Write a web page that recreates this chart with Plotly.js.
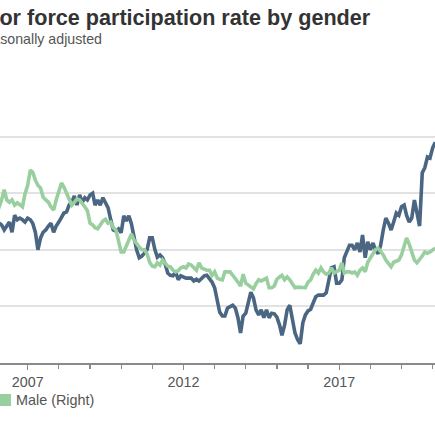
<!DOCTYPE html>
<html>
<head>
<meta charset="utf-8">
<script src="https://cdn.plot.ly/plotly-3.0.1.min.js"></script>
<style>
  html, body { margin: 0; padding: 0; width: 435px; height: 435px; overflow: hidden; background: #fff; }
  #chart { position: absolute; left: -160px; top: 0; width: 700px; height: 435px; }
</style>
</head>
<body>
<div id="chart"></div>
<script>
// Monthly series, first month Jan 2006
const startYear = 2006;
const femaleLeft = [
  75.47, 75.47, 75.44, 75.35, 75.42, 75.49, 75.31, 75.61, 75.53, 75.56, 75.53, 75.49,
  75.56, 75.53, 75.47, 75.31, 75.00, 75.21, 75.31, 75.35, 75.42, 75.47, 75.31, 75.42,
  75.49, 75.56, 75.65, 75.67, 75.79, 75.84, 75.95, 75.79, 75.97, 75.84, 75.92, 75.88,
  75.97, 76.00, 75.79, 75.88, 75.79, 75.92, 75.84, 75.74, 75.53, 75.35, 75.33, 75.37,
  75.30, 75.60, 75.51, 75.60, 75.46, 75.24, 75.00, 74.86, 74.89, 74.94, 75.00, 75.21,
  75.21, 75.00, 74.87, 74.91, 74.86, 74.75, 74.59, 74.55, 74.54, 74.61, 74.47, 74.54,
  74.52, 74.50, 74.50, 74.50, 74.45, 74.48, 74.45, 74.50, 74.54, 74.55, 74.50, 74.43,
  74.33, 74.06, 73.90, 73.83, 73.83, 73.97, 73.99, 74.02, 73.97, 73.80, 73.53, 73.83,
  73.88, 74.08, 74.25, 74.15, 73.94, 73.85, 73.94, 73.80, 73.94, 73.80, 73.88, 73.87,
  73.81, 73.67, 73.49, 73.67, 73.94, 74.02, 73.80, 73.53, 73.41, 73.34, 73.71, 73.85,
  73.92, 73.95, 74.06, 74.17, 74.20, 74.20, 74.20, 74.24, 74.43, 74.68, 74.70, 74.41,
  74.41, 74.47, 74.86, 74.96, 75.08, 75.08, 75.00, 75.12, 74.96, 75.26, 74.86, 75.14,
  75.00, 75.12, 75.00, 74.93, 75.08, 75.35, 75.56, 75.47, 75.35, 75.49, 75.65, 75.61,
  75.76, 75.79, 75.61, 75.49, 75.56, 75.88, 75.67, 75.42, 76.36, 76.45, 76.64, 76.62,
  76.80, 76.90
];
const maleRight = [
  89.79, 89.76, 89.88, 90.06, 89.88, 89.84, 89.88, 89.79, 89.83, 89.79, 89.76, 89.99,
  90.14, 90.41, 90.37, 90.23, 90.14, 90.09, 89.93, 89.88, 89.84, 89.76, 89.70, 89.88,
  90.06, 90.18, 90.11, 90.00, 89.90, 89.79, 89.84, 89.90, 89.88, 89.83, 89.76, 89.69,
  89.47, 89.44, 89.39, 89.37, 89.44, 89.51, 89.54, 89.47, 89.49, 89.39, 89.35, 89.17,
  88.96, 88.96, 89.05, 89.17, 89.28, 89.17, 89.10, 89.05, 89.00, 89.00, 88.93, 88.78,
  88.71, 88.70, 88.77, 88.73, 88.82, 88.77, 88.71, 88.70, 88.64, 88.61, 88.63, 88.68,
  88.70, 88.68, 88.75, 88.73, 88.68, 88.64, 88.77, 88.68, 88.66, 88.64, 88.64, 88.55,
  88.61, 88.50, 88.48, 88.47, 88.61, 88.61, 88.61, 88.55, 88.50, 88.43, 88.36, 88.57,
  88.41, 88.38, 88.34, 88.31, 88.40, 88.47, 88.45, 88.48, 88.50, 88.33, 88.33, 88.36,
  88.48, 88.52, 88.55, 88.47, 88.52, 88.47, 88.40, 88.33, 88.34, 88.34, 88.34, 88.33,
  88.43, 88.47, 88.57, 88.64, 88.59, 88.68, 88.61, 88.57, 88.59, 88.68, 88.59, 88.61,
  88.64, 88.77, 88.59, 88.61, 88.61, 88.59, 88.61, 88.55, 88.64, 88.68, 88.61, 88.78,
  88.86, 88.94, 89.00, 89.03, 88.98, 88.91, 88.82, 88.75, 88.70, 88.78, 88.80, 88.82,
  88.91, 89.08, 89.21, 89.10, 88.96, 88.82, 88.77, 88.82, 88.89, 88.96, 88.94, 88.96,
  89.00, 89.03
];
const seriesNames = ['Female (Left)', 'Male (Right)'];
const titleText = 'Labor force participation rate by gender';
const subtitleText = 'Seasonally adjusted';

const months = femaleLeft.map((_, i) => {
  const y = startYear + Math.floor(i / 12);
  const m = (i % 12) + 1;
  return y + '-' + (m < 10 ? '0' + m : m) + '-01';
});

const FONT = 'Liberation Sans, Arial, sans-serif';
const BLUE = '#4a6683';
const GREEN = '#99cf9e';

const traces = [
  { x: months, y: femaleLeft, name: seriesNames[0], type: 'scatter', mode: 'lines',
    line: { color: BLUE, width: 3.6 }, yaxis: 'y', showlegend: false },
  { x: months, y: maleRight, name: seriesNames[1], type: 'scatter', mode: 'lines',
    line: { color: GREEN, width: 3.6 }, yaxis: 'y2', showlegend: false }
];

const layout = {
  width: 700, height: 435,
  margin: { l: 140, r: 85, t: 80, b: 72, autoexpand: false },
  paper_bgcolor: '#ffffff', plot_bgcolor: '#ffffff',
  font: { family: FONT, color: '#555' },
  title: {
    text: titleText, xref: 'container', x: 0.1729, xanchor: 'left',
    yref: 'container', y: 0.9609, yanchor: 'middle', pad: { t: 0, b: 0, l: 0, r: 0 },
    font: { family: FONT, size: 21.6, color: '#333333', weight: 'bold' }
  },
  xaxis: {
    type: 'date', range: ['2005-06-21', '2020-09-19'], automargin: false,
    tick0: '2007-01-01', dtick: 'M60', tickformat: '%Y',
    ticks: 'outside', ticklen: 5, tickwidth: 1.3, tickcolor: '#8a8a8a',
    minor: { dtick: 'M12', tick0: '2007-01-01', ticks: 'outside', ticklen: 4, tickwidth: 1.3, tickcolor: '#8a8a8a', showgrid: false },
    showline: true, linecolor: '#8a8a8a', linewidth: 1.8,
    showgrid: false, zeroline: false,
    tickfont: { family: FONT, size: 14.3, color: '#555' }
  },
  yaxis: {
    range: [73, 78], dtick: 1, showgrid: true, gridcolor: '#e2e2e2', gridwidth: 2,
    zeroline: false, showline: false, ticks: '', automargin: false, showticklabels: false
  },
  yaxis2: {
    range: [87, 92], dtick: 1, overlaying: 'y', side: 'right', showgrid: false,
    zeroline: false, showline: false, ticks: '', automargin: false, showticklabels: false
  },
  annotations: [
    { text: subtitleText, xref: 'paper', yref: 'paper', x: -0.0116, y: 1.145,
      xanchor: 'left', yanchor: 'middle', showarrow: false, borderpad: 0,
      font: { family: FONT, size: 14.2, color: '#555' } },
    { text: seriesNames[0], xref: 'paper', yref: 'paper', x: -0.1726, y: -0.1307,
      xanchor: 'left', yanchor: 'middle', showarrow: false, borderpad: 0,
      font: { family: FONT, size: 14.4, color: '#555' } },
    { text: seriesNames[1], xref: 'paper', yref: 'paper', x: 0.0747, y: -0.1307,
      xanchor: 'left', yanchor: 'middle', showarrow: false, borderpad: 0,
      font: { family: FONT, size: 14.4, color: '#555' } }
  ],
  shapes: [
    { type: 'rect', xref: 'paper', yref: 'paper', x0: -0.2063, x1: -0.1811, y0: -0.152, y1: -0.1095,
      fillcolor: BLUE, line: { width: 0 } },
    { type: 'rect', xref: 'paper', yref: 'paper', x0: 0.04, x1: 0.06526, y0: -0.152, y1: -0.1095,
      fillcolor: GREEN, line: { width: 0 } }
  ]
};

Plotly.newPlot('chart', traces, layout, { displayModeBar: false, staticPlot: true });
</script>
</body>
</html>
